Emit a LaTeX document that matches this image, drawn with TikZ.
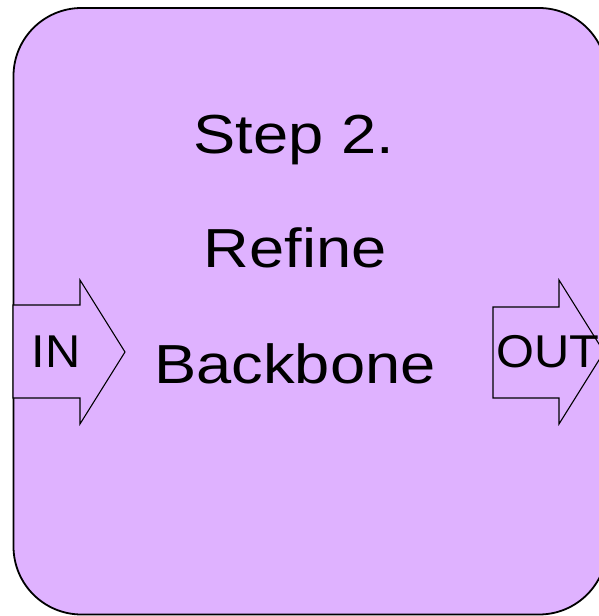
\documentclass[tikz,border=0pt]{standalone}
\usepackage{fontspec}
\setmainfont{Liberation Sans}
\newfontfamily\titlefont[FakeStretch=1.15]{Liberation Sans}
\newfontfamily\portfont[FakeStretch=1.06]{Liberation Sans}
\definecolor{stagefill}{RGB}{223,178,255}
\tikzset{
  stagebox/.style={draw=black, fill=stagefill, line width=1.8pt, rounded corners=68pt},
  portarrow/.style={draw=black, fill=stagefill, line width=1.1pt, line join=miter},
  titletext/.style={anchor=base, inner sep=0pt, font=\titlefont\fontsize{55}{60}\selectfont},
  porttext/.style={anchor=base, inner sep=0pt, font=\portfont\fontsize{46}{52}\selectfont},
}
\begin{document}
\begin{tikzpicture}[x=1pt, y=-1pt]
  \useasboundingbox (0,0) rectangle (599,616);
  \begin{scope}
    \clip (0,0) rectangle (599,616);
    % stage outline
    \draw[stagebox] (13.5,8) rectangle (607,614.5);
    % input arrow on the left edge
    \draw[portarrow] (13,305) -- (80,305) -- (80,280) -- (125,352)
      -- (80,424) -- (80,398) -- (13,398) -- cycle;
    % output arrow on the right edge
    \draw[portarrow] (493,307) -- (559,307) -- (559,280) -- (604,352)
      -- (559,424) -- (559,398) -- (493,398) -- cycle;
  \end{scope}
  % stage title
  \node[titletext] (step)     at (294,153) {Step 2.};
  \node[titletext] (refine)   at (295,267) {Refine};
  \node[titletext] (backbone) at (295,383) {Backbone};
  % port labels
  \node[porttext] (in)  at (56,367)  {IN};
  \node[porttext] (out) at (548,367) {OUT};
\end{tikzpicture}
\end{document}
